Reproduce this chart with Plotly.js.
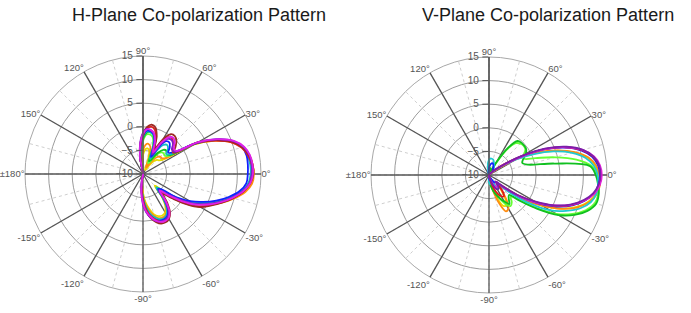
<!DOCTYPE html>
<html>
<head>
<meta charset="utf-8">
<script src="https://cdn.plot.ly/plotly-3.0.1.min.js"></script>
<style>html,body{margin:0;padding:0;background:#fff}#chart{width:691px;height:313px}</style>
</head>
<body>
<div id="chart"></div>
<script>
// Angles (degrees) at which the patterns are sampled
const THETA = [-105,-100,-95,-90,-85,-80,-75,-70,-65,-60,-55,-50,-45,-40,-35,-30,-25,-20,-15,-10,-5,
  0,5,10,15,20,25,30,35,40,45,50,55,60,65,70,75,80,85,90,95,100,105];

// Angular tick labels
const ANG_TICKS = [0,30,60,90,120,150,180,210,240,270,300,330];
const ANG_TEXT = ['0°','30°','60°','90°','120°','150°','±180°','-150°','-120°','-90°','-60°','-30°'];
const RAD_TICKS = [-10,-5,0,5,10,15];

// Titles
const TITLE_H = 'H-Plane Co-polarization Pattern';
const TITLE_V = 'V-Plane Co-polarization Pattern';

// ---------- H-plane (dB) ----------
const H_yellow  = [-10,-9.5,-8,-6,-4,-2.5,-1.2,-0.5,-0.3,-0.6,-1.8,-4,-6.5,-4.5,-0.8,2.8,5.2,7.6,9.8,11.8,13,
  13.4,13.3,12.9,12,10,6.8,2.5,-4.5,-5.5,-5.8,-6.5,-8,-9,-9,-7,-5,-4.5,-4.8,-6,-8,-9.5,-10];
const H_orange  = [-10,-9.3,-7.5,-5.5,-3.5,-2,-0.8,0,0.2,-0.2,-1.4,-3.6,-6,-4,-0.5,3,5.4,7.8,10,12,13.2,
  13.5,13.3,12.8,11.8,9.8,6.6,2.6,-4,-4.8,-4.8,-5.3,-6.5,-8,-8.5,-6,-4,-3.5,-3.8,-5,-7,-9,-10];
const H_lime    = [-10,-9.2,-7.2,-5,-3,-1.4,-0.4,0.3,0.5,0.1,-1.1,-3.4,-6,-4.2,-0.8,2.5,4.8,7.2,9.4,11.4,12.7,
  13.1,13.1,12.8,12,10.2,7.2,3.1,-3.2,-4,-3.8,-4,-5,-7,-7.5,-4,-2,-1.5,-1.6,-3,-5.5,-8.5,-10];
const H_green   = [-10,-9,-7,-4.8,-2.8,-1.2,-0.2,0.4,0.6,0.2,-1,-3.3,-5.8,-4.5,-1,2.2,4.6,7,9.3,11.3,12.6,
  13,13,12.7,11.9,10.1,7.1,3,-3,-3.5,-3,-3.3,-4.5,-6.5,-7,-3.5,-1.5,-1,-1.2,-2.5,-5,-8,-10];
const H_cyan    = [-10,-9,-7,-5,-3,-1.5,-0.5,0.2,0.4,0,-1.2,-3.5,-6,-4.5,-1,2,4.5,7,9.2,11.2,12.4,
  12.8,12.8,12.5,11.8,10,7,3,-2.5,-3.5,-2.5,-2,-2.5,-4.5,-6.5,-3.5,-1.5,-1,-1,-2.2,-4.5,-7.5,-10];
const H_blue    = [-10,-9,-6.5,-4.5,-2.5,-1,0,0.5,0.6,0.3,-0.8,-3,-5.5,-5,-1.5,1.5,4,6.5,8.8,10.8,12,
  12.2,12.3,12.3,11.8,10.2,7.3,3.2,-1.8,-3,-2,-1.3,-1.5,-3.5,-6,-3,-1.3,-0.8,-0.8,-2,-4,-7,-10];
const H_red     = [-10,-9,-7,-4.5,-2.5,-1,0,0.8,1,0.7,-0.5,-2.5,-4.5,-2.5,0.8,3.8,5.6,7.6,9.6,11.5,12.7,
  13.2,13.1,12.6,11.6,9.8,6.8,3.2,-2.2,-1.8,-1,-0.3,-0.5,-2,-4.5,-2,-0.3,0.2,-0.3,-1.8,-4,-7,-10];
const H_brown   = [-10,-9,-6.5,-4,-2,-0.5,0.5,1.2,1.3,1,0,-2,-4,-2,1,4,5.8,7.8,9.8,11.6,12.8,
  13.4,13.3,12.8,11.8,10,7,3.5,-2,-1,0,0.5,0.3,-1.5,-4,-1.5,0.2,0.6,0,-1.5,-3.5,-6.5,-10];
const H_purple  = [-10,-8.5,-6,-3.5,-1.8,-0.6,0.3,0.7,0.8,0.5,-0.5,-2.8,-5.2,-3.5,-0.5,2.6,5,7.3,9.5,11.4,12.6,
  13,13.1,12.9,12.1,10.4,7.4,3.4,-1.8,-2,-1,-0.6,-0.9,-2.8,-5.5,-2.8,-1.2,-0.6,-0.4,-1.3,-3.3,-6.3,-10];
const H_magenta = [-10,-8.5,-6,-3.8,-2,-0.8,0.2,0.8,1,0.8,-0.2,-2.5,-5,-3,0,3,5.3,7.5,9.6,11.5,12.8,
  13.3,13.3,13,12.2,10.5,7.5,3.5,-1.5,-1.5,-0.5,0,-0.5,-2.5,-5,-2.5,-1,-0.5,-0.5,-1.5,-3.5,-6.5,-10];

// ---------- V-plane (dB) ----------
const V_yellow  = [-10,-10,-10,-9.8,-9.2,-8.5,-7,-4.5,-2.8,-2.6,-4,-6.2,-7.2,-5,-1,3,6.8,9.8,11.8,13,13.4,
  13.2,12.6,11.2,8.6,5,1,-3.2,-7,-8.8,-9.5,-9.8,-10,-10,-10,-10,-10,-10,-10,-10,-10,-10,-10];
const V_orange  = [-10,-10,-10,-9.8,-9,-8,-6.3,-3.5,-1.5,-1.8,-3.5,-6,-7,-5,-1,3,7,10,12,13.2,13.6,
  13.4,12.8,11.4,8.8,5.3,1.3,-3,-7,-8.8,-9.5,-9.8,-10,-10,-10,-10,-10,-10,-10,-10,-10,-10,-10];
const V_lime    = [-10,-10,-10,-9.8,-9,-8,-7,-6,-4.5,-2.8,-2,-2.5,-3.5,-2,2,6.5,9.5,11.8,13.2,13.5,13.3,
  12.9,11.8,8.8,4.5,0.5,-1.8,-1.5,-0.6,-0.4,-0.6,-1.2,-3.5,-7.5,-9.3,-9.7,-9.5,-9.3,-9.5,-9.8,-10,-10,-10];
const V_green   = [-10,-10,-10,-9.5,-8.5,-7.5,-6.5,-5.5,-4.5,-3.5,-2.5,-3.5,-4,-1.5,2.5,7,10,12.2,13.5,13.6,13.2,
  12.6,11.5,4,-1.5,-2.5,-2,-1,-0.4,-0.3,-0.3,-0.6,-3,-7,-9,-9.5,-9,-8.5,-8.5,-9,-9.5,-10,-10];
const V_cyan    = [-10,-10,-9.5,-8.5,-8,-8.2,-8.8,-9,-8.5,-7.5,-6.5,-6.5,-6.5,-4,0.5,5,8,10.6,12.3,13.1,13.2,
  13,12.3,10.8,8.2,4.6,0.5,-3.5,-6.5,-8,-8.5,-8.5,-8.2,-7.8,-7.5,-7,-6.6,-6.5,-6.5,-6.8,-7.5,-8.8,-10];
const V_blue    = [-10,-10,-10,-9.5,-9,-9,-9.2,-9.4,-9.2,-8.8,-8.2,-8,-8,-6,-2,2,5.8,8.8,11,12.6,13.3,
  13.5,13.2,12.2,10.2,7,2.8,-2.2,-6.2,-8,-8.6,-8.8,-8.6,-8.2,-7.8,-7.5,-7.4,-7.6,-8,-8.5,-9.2,-9.8,-10];
const V_red     = [-10,-10,-10,-10,-9.8,-9.5,-8.2,-6.8,-5.6,-4.8,-4.5,-5.5,-7.5,-6.5,-2.5,1.5,5.5,8.6,10.9,12.6,13.5,
  13.7,13.4,12.4,10.4,7.2,3,-2,-6,-8,-9,-9.5,-9.8,-10,-10,-10,-10,-10,-10,-10,-10,-10,-10];
const V_magenta = [-10,-10,-10,-10,-10,-9.8,-9.2,-8.5,-7.5,-7,-7,-7.5,-8,-6,-2,1.8,5.3,8.5,10.9,12.7,13.6,
  13.9,13.6,12.6,10.5,7.2,2.8,-2.5,-6.5,-8.5,-9.3,-9.7,-9.9,-10,-10,-10,-10,-10,-10,-10,-10,-10,-10];
const V_purple  = [-10,-10,-10,-10,-10,-9.8,-9,-8,-7,-6.5,-6.5,-7,-8,-6.5,-2.5,1.2,5.2,8.3,10.7,12.4,13.3,
  13.6,13.4,12.5,10.6,7.5,3.3,-1.8,-6,-8.2,-9.2,-9.6,-9.8,-10,-10,-10,-10,-10,-10,-10,-10,-10,-10];

const H_SERIES = [
  [H_yellow,'#e6dc00'],[H_orange,'#ff8c10'],[H_lime,'#66ff33'],[H_green,'#10c020'],
  [H_cyan,'#10c0c0'],[H_blue,'#1020ff'],[H_red,'#e02020'],[H_brown,'#9c2a24'],
  [H_purple,'#7a22c8'],[H_magenta,'#e020e8']
];
const V_SERIES = [
  [V_yellow,'#e6dc00'],[V_orange,'#ff8c10'],[V_lime,'#66ff33'],[V_green,'#10c020'],
  [V_cyan,'#20c8d0'],[V_blue,'#1020ff'],[V_red,'#e01818'],[V_magenta,'#e020d8'],
  [V_purple,'#7a1fa8']
];

const traces = [];
// empty traces so that the background grid subplots are drawn
traces.push({type:'scatterpolar', mode:'lines', r:[], theta:[], subplot:'polar', showlegend:false, hoverinfo:'skip'});
traces.push({type:'scatterpolar', mode:'lines', r:[], theta:[], subplot:'polar3', showlegend:false, hoverinfo:'skip'});
H_SERIES.forEach(([r,c]) => traces.push({type:'scatterpolar', mode:'lines', r:r, theta:THETA,
  subplot:'polar2', line:{color:c, width:1.8, shape:'spline'}, showlegend:false, hoverinfo:'skip'}));
V_SERIES.forEach(([r,c]) => traces.push({type:'scatterpolar', mode:'lines', r:r, theta:THETA,
  subplot:'polar4', line:{color:c, width:1.8, shape:'spline'}, showlegend:false, hoverinfo:'skip'}));

function basePolar(dx, dy){
  return {
    domain:{x:dx, y:dy}, bgcolor:'#fff',
    radialaxis:{range:[-10,15], tickvals:[-5,0,5,10], showticklabels:false, ticks:'', showline:false,
      gridcolor:'#9c9c9c', gridwidth:1},
    angularaxis:{direction:'counterclockwise', rotation:0, tickmode:'linear', tick0:0, dtick:15,
      showticklabels:false, ticks:'', gridcolor:'#cfcfcf', griddash:'dot', gridwidth:1,
      showline:true, linecolor:'#a8a8a8', linewidth:1}
  };
}
function topPolar(dx, dy){
  return {
    domain:{x:dx, y:dy}, bgcolor:'rgba(0,0,0,0)',
    radialaxis:{range:[-10,15], angle:90, side:'counterclockwise', tickvals:RAD_TICKS, ticks:'outside',
      ticklen:6, tickcolor:'#555', showgrid:false, showline:true, linecolor:'#555', linewidth:1.3,
      tickangle:90,
      tickfont:{family:'Liberation Sans, Arial, sans-serif', size:10, color:'#555'}},
    angularaxis:{direction:'counterclockwise', rotation:0, tickmode:'array', tickvals:ANG_TICKS,
      ticktext:ANG_TEXT, ticks:'', gridcolor:'#555555', gridwidth:1.3, showline:false,
      tickfont:{family:'Liberation Sans, Arial, sans-serif', size:9.5, color:'#555'}}
  };
}
const dxL = [25/691, 261/691], dyL = [21/313, 257/313];
const dxR = [371/691, 607/691], dyR = [20/313, 256/313];

const layout = {
  width:691, height:313, margin:{l:0,r:0,t:0,b:0}, paper_bgcolor:'#fff', showlegend:false,
  polar: basePolar(dxL, dyL), polar2: topPolar(dxL, dyL),
  polar3: basePolar(dxR, dyR), polar4: topPolar(dxR, dyR),
  annotations:[
    {text:TITLE_H, xref:'paper', yref:'paper', x:199/691, y:(313-15)/313, showarrow:false,
      xanchor:'center', yanchor:'middle', font:{family:'Liberation Sans, Arial, sans-serif', size:18, color:'#1a1a1a'}},
    {text:TITLE_V, xref:'paper', yref:'paper', x:548/691, y:(313-15)/313, showarrow:false,
      xanchor:'center', yanchor:'middle', font:{family:'Liberation Sans, Arial, sans-serif', size:18, color:'#1a1a1a'}}
  ]
};
Plotly.newPlot('chart', traces, layout, {staticPlot:true, displayModeBar:false});
</script>
</body>
</html>
